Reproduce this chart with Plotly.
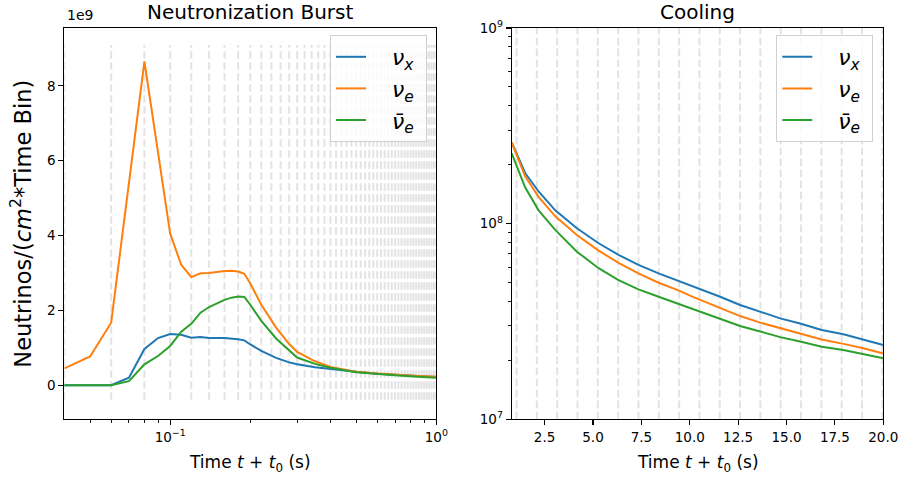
import plotly.graph_objects as go

# ---------------- data ----------------
# Neutronization burst (left panel), time in s, fluence in neutrinos/(cm^2 * time bin)
burst_t = [0.04, 0.05, 0.06, 0.07, 0.08, 0.09, 0.10, 0.11, 0.12, 0.13, 0.14, 0.16, 0.17,
           0.18, 0.19, 0.20, 0.22, 0.25, 0.28, 0.30, 0.35, 0.40, 0.50, 0.60, 0.70, 0.85, 1.00]
burst_nu_x = [0.0, 0.0, 0.0, 0.20e9, 0.97e9, 1.26e9, 1.37e9, 1.35e9, 1.27e9, 1.29e9, 1.26e9,
              1.26e9, 1.25e9, 1.23e9, 1.20e9, 1.09e9, 0.92e9, 0.73e9, 0.61e9, 0.56e9, 0.48e9,
              0.43e9, 0.36e9, 0.31e9, 0.28e9, 0.245e9, 0.22e9]
burst_nu_e = [0.45e9, 0.77e9, 1.67e9, 5.41e9, 8.65e9, 6.22e9, 4.05e9, 3.22e9, 2.89e9, 2.99e9,
              3.00e9, 3.05e9, 3.06e9, 3.04e9, 2.98e9, 2.72e9, 2.15e9, 1.54e9, 1.10e9, 0.89e9,
              0.64e9, 0.49e9, 0.36e9, 0.315e9, 0.28e9, 0.25e9, 0.23e9]
burst_nu_e_bar = [0.0, 0.0, 0.0, 0.11e9, 0.56e9, 0.78e9, 1.05e9, 1.43e9, 1.64e9, 1.94e9,
                  2.09e9, 2.28e9, 2.34e9, 2.37e9, 2.36e9, 2.15e9, 1.72e9, 1.25e9, 0.93e9,
                  0.74e9, 0.57e9, 0.47e9, 0.35e9, 0.30e9, 0.265e9, 0.23e9, 0.20e9]
burst_bin_edges = [0.04, 0.06, 0.08, 0.10, 0.12, 0.14, 0.16, 0.18, 0.20, 0.22, 0.24, 0.26,
                   0.28, 0.30, 0.32, 0.34, 0.36, 0.38, 0.40, 0.42, 0.44, 0.46, 0.48, 0.50,
                   0.52, 0.54, 0.56, 0.58, 0.60, 0.62, 0.64, 0.66, 0.68, 0.70, 0.72, 0.74,
                   0.76, 0.78, 0.80, 0.82, 0.84, 0.86, 0.88, 0.90, 0.92, 0.94, 0.96, 0.98, 1.00]
burst_bin_line_span = [-0.39e9, 9.09e9]

# Cooling (right panel)
cool_t = [0.80, 1.16, 1.50, 2.19, 3.05, 4.17, 5.29, 6.32, 7.35, 8.39, 9.42, 10.10, 11.57,
          12.60, 13.64, 14.67, 15.70, 16.82, 17.94, 18.97, 20.00]
cool_nu_x = [2.60e8, 2.16e8, 1.81e8, 1.46e8, 1.17e8, 9.47e7, 7.94e7, 6.92e7, 6.15e7, 5.57e7,
             5.10e7, 4.81e7, 4.23e7, 3.84e7, 3.55e7, 3.28e7, 3.09e7, 2.86e7, 2.72e7, 2.56e7, 2.40e7]
cool_nu_e = [2.60e8, 2.10e8, 1.74e8, 1.37e8, 1.09e8, 8.75e7, 7.28e7, 6.31e7, 5.57e7, 4.99e7,
             4.56e7, 4.25e7, 3.69e7, 3.37e7, 3.12e7, 2.92e7, 2.75e7, 2.56e7, 2.43e7, 2.31e7, 2.17e7]
cool_nu_e_bar = [2.29e8, 1.88e8, 1.53e8, 1.17e8, 9.29e7, 7.19e7, 5.92e7, 5.15e7, 4.61e7, 4.23e7,
                 3.89e7, 3.66e7, 3.24e7, 3.00e7, 2.81e7, 2.63e7, 2.50e7, 2.35e7, 2.26e7, 2.16e7, 2.05e7]
cool_bin_edges = [1.05, 2.10, 3.15, 4.20, 5.25, 6.30, 7.35, 8.40, 9.45, 10.50, 11.55, 12.60,
                  13.65, 14.70, 15.75, 16.80, 17.85, 18.90, 19.95]
cool_bin_line_span = [1e7, 1e9]

left_y_ticks = [0, 2e9, 4e9, 6e9, 8e9]
left_y_ticktext = ["0", "2", "4", "6", "8"]
left_x_ticks = [0.1, 1.0]
left_x_ticktext = ["10<sup>\u22121</sup>", "10<sup>0</sup>"]
left_x_minor = [0.05, 0.06, 0.07, 0.08, 0.09, 0.2, 0.3, 0.4, 0.5, 0.6, 0.7, 0.8, 0.9]
right_x_ticks = [2.5, 5.0, 7.5, 10.0, 12.5, 15.0, 17.5, 20.0]
right_y_ticks = [1e7, 1e8, 1e9]
right_y_ticktext = ["10<sup>7</sup>", "10<sup>8</sup>", "10<sup>9</sup>"]
right_y_minor = [2e7, 3e7, 4e7, 5e7, 6e7, 7e7, 8e7, 9e7, 2e8, 3e8, 4e8, 5e8, 6e8, 7e8, 8e8, 9e8]

NB = "\u00a0"
series_names = [NB * 3 + "<i>\u03bd</i><sub><i>x</i></sub>" + NB,
                NB * 3 + "<i>\u03bd</i><sub><i>e</i></sub>" + NB,
                NB * 3 + "<i>\u03bd\u0304</i><sub><i>e</i></sub>" + NB]
series_colors = ["#1f77b4", "#ff7f0e", "#2ca02c"]

# ---------------- figure ----------------
W, H = 902, 477
FONT = "DejaVu Sans"


def px_x(p):
    return p / W


def px_y(p):
    return 1 - p / H


def vline_xy(edges, span):
    xs, ys = [], []
    for e in edges:
        xs += [e, e, None]
        ys += [span[0], span[1], None]
    return xs, ys


fig = go.Figure()

grid_style = dict(color="rgba(200,200,200,0.5)", width=2, dash="7.7px,3.3px")

xs, ys = vline_xy(burst_bin_edges, burst_bin_line_span)
fig.add_trace(go.Scatter(x=xs, y=ys, mode="lines", line=grid_style, showlegend=False,
                         hoverinfo="skip", xaxis="x", yaxis="y"))
xs, ys = vline_xy(cool_bin_edges, cool_bin_line_span)
fig.add_trace(go.Scatter(x=xs, y=ys, mode="lines", line=grid_style, showlegend=False,
                         hoverinfo="skip", xaxis="x2", yaxis="y2"))

for name, col, vals in zip(series_names, series_colors,
                           [burst_nu_x, burst_nu_e, burst_nu_e_bar]):
    fig.add_trace(go.Scatter(x=burst_t, y=vals, mode="lines", name=name,
                             line=dict(color=col, width=2), xaxis="x", yaxis="y",
                             legend="legend"))
for name, col, vals in zip(series_names, series_colors,
                           [cool_nu_x, cool_nu_e, cool_nu_e_bar]):
    fig.add_trace(go.Scatter(x=cool_t, y=vals, mode="lines", name=name,
                             line=dict(color=col, width=2), xaxis="x2", yaxis="y2",
                             legend="legend2"))

axis_common = dict(showline=True, linecolor="black", linewidth=1.1, mirror=True,
                   ticks="outside", ticklen=5, tickwidth=1.1, tickcolor="black",
                   showgrid=False, zeroline=False, automargin=False,
                   tickfont=dict(family=FONT, size=13.5, color="black"))

y_dom = [px_y(419.3), px_y(28)]

legend_common = dict(xanchor="right", yanchor="top",
                     bgcolor="rgba(255,255,255,0.8)", bordercolor="#d0d0d0", borderwidth=1,
                     font=dict(family=FONT, size=22, color="black"), tracegroupgap=0)

fig.update_layout(
    template="none",
    width=W, height=H,
    margin=dict(l=0, r=0, t=0, b=0, pad=0, autoexpand=False),
    paper_bgcolor="white", plot_bgcolor="white",
    font=dict(family=FONT, color="black"),
    xaxis=dict(axis_common, type="log", range=[-1.39794, 0.0],
               domain=[px_x(64.3), px_x(436.3)], anchor="y",
               tickmode="array", tickvals=left_x_ticks, ticktext=left_x_ticktext,
               minor=dict(ticks="outside", ticklen=3, tickwidth=0.9, tickcolor="black",
                          tickmode="array", tickvals=left_x_minor, showgrid=False)),
    yaxis=dict(axis_common, range=[-0.91e9, 9.545e9], domain=y_dom, anchor="x",
               tickmode="array", tickvals=left_y_ticks, ticktext=left_y_ticktext),
    xaxis2=dict(axis_common, range=[0.8, 20.0], domain=[px_x(511.7), px_x(883.3)],
                anchor="y2", tickmode="array", tickvals=right_x_ticks, tickformat=".1f"),
    yaxis2=dict(axis_common, type="log", range=[7, 9], domain=y_dom, anchor="x2",
                tickmode="array", tickvals=right_y_ticks, ticktext=right_y_ticktext,
                minor=dict(ticks="outside", ticklen=3, tickwidth=0.9, tickcolor="black",
                           tickmode="array", tickvals=right_y_minor, showgrid=False)),
    legend=dict(legend_common, x=px_x(427), y=px_y(35)),
    legend2=dict(legend_common, x=px_x(873.3), y=px_y(35)),
    showlegend=True,
)

annotations = [
    dict(text="Neutronization Burst", x=px_x(250.3), y=px_y(12.5), xanchor="center",
         yanchor="middle", font=dict(family=FONT, size=20, color="black")),
    dict(text="Cooling", x=px_x(697.5), y=px_y(12.5), xanchor="center",
         yanchor="middle", font=dict(family=FONT, size=20, color="black")),
    dict(text="Time <i>t</i> + <i>t</i><sub>0</sub> (s)", x=px_x(250.3), y=px_y(463),
         xanchor="center", yanchor="middle", font=dict(family=FONT, size=17, color="black")),
    dict(text="Time <i>t</i> + <i>t</i><sub>0</sub> (s)", x=px_x(697.5), y=px_y(463),
         xanchor="center", yanchor="middle", font=dict(family=FONT, size=17, color="black")),
    dict(text="Neutrinos/(<i>cm</i><sup>2</sup>*Time Bin)", x=px_x(21), y=px_y(223.7),
         xanchor="center", yanchor="middle", textangle=-90,
         font=dict(family=FONT, size=22.5, color="black")),
    dict(text="1e9", x=px_x(65), y=px_y(25), xanchor="left", yanchor="bottom",
         font=dict(family=FONT, size=14, color="black")),
]
for a in annotations:
    a.update(xref="paper", yref="paper", showarrow=False)
fig.update_layout(annotations=annotations)

fig.write_html("out.html",
               config={"displayModeBar": False, "staticPlot": True},
               post_script="document.body.style.margin='0';document.body.style.padding='0';")
